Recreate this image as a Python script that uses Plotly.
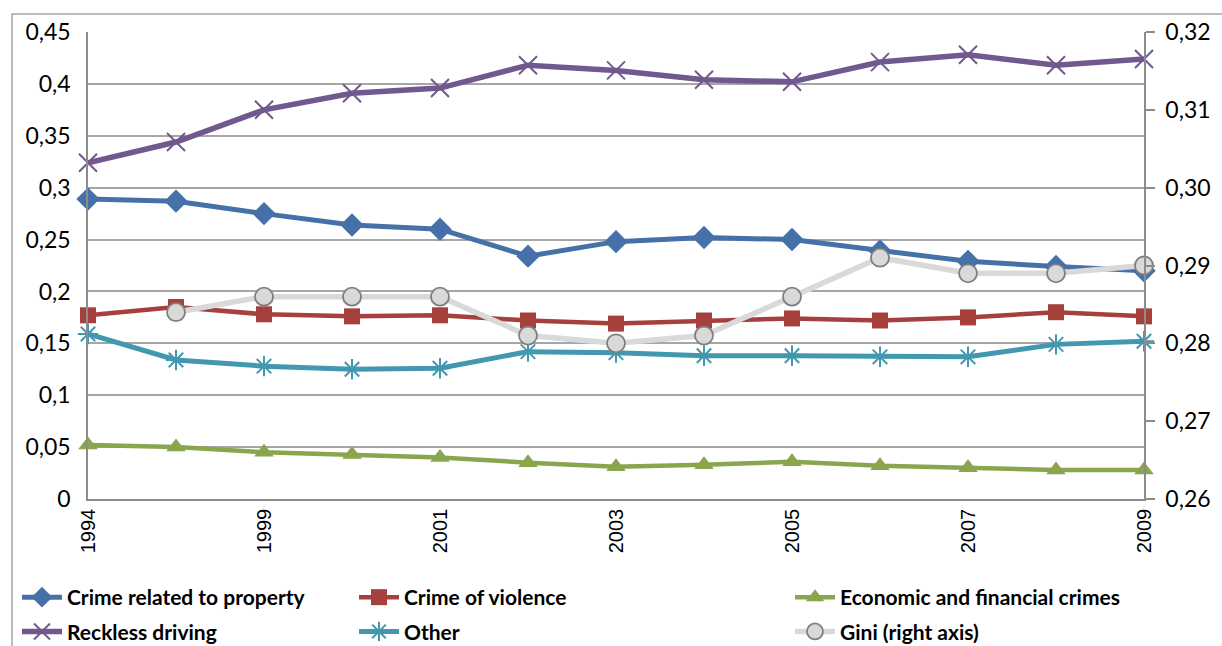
import plotly.graph_objects as go

years = ["1994", "1998", "1999", "2000", "2001", "2002", "2003", "2004",
         "2005", "2006", "2007", "2008", "2009"]
shown_years = ["1994", "1999", "2001", "2003", "2005", "2007", "2009"]

property_crime = [0.289, 0.287, 0.275, 0.264, 0.260, 0.234, 0.248, 0.252, 0.250, 0.239, 0.229, 0.224, 0.220]
violence = [0.177, 0.185, 0.178, 0.176, 0.177, 0.172, 0.169, 0.172, 0.174, 0.172, 0.175, 0.180, 0.176]
economic = [0.052, 0.050, 0.045, 0.043, 0.040, 0.035, 0.031, 0.033, 0.036, 0.032, 0.030, 0.028, 0.028]
reckless = [0.324, 0.344, 0.375, 0.391, 0.396, 0.418, 0.413, 0.404, 0.402, 0.421, 0.428, 0.418, 0.424]
other = [0.159, 0.134, 0.128, 0.125, 0.126, 0.142, 0.141, 0.138, 0.138, 0.137, 0.137, 0.149, 0.152]
gini = [None, 0.284, 0.286, 0.286, 0.286, 0.281, 0.280, 0.281, 0.286, 0.291, 0.289, 0.289, 0.290]

left_ticks = [0, 0.05, 0.1, 0.15, 0.2, 0.25, 0.3, 0.35, 0.4, 0.45]
right_ticks = [0.26, 0.27, 0.28, 0.29, 0.30, 0.31, 0.32]

W, H = 1222, 646
L, R, T, B = 88, 1144, 32, 499


def px_x(p):
    return (p - L) / (R - L)


def px_y(p):
    return (B - p) / (B - T)


FONT = "Lato"
fig = go.Figure()

series = [
    ("Crime related to property", property_crime, "#4571A8", "diamond", 18, 5, "legend", "y"),
    ("Crime of violence", violence, "#A5403D", "square", 16, 4.5, "legend2", "y"),
    ("Economic and financial crimes", economic, "#89A54E", "triangle-up", 17, 4.5, "legend3", "y"),
    ("Reckless driving", reckless, "#71588F", "x-thin-open", 18, 5.5, "legend", "y"),
    ("Other", other, "#4198AF", "asterisk-open", 17, 5, "legend2", "y"),
]
for i, (name, vals, col, sym, size, lw, lg, ya) in enumerate(series):
    fig.add_trace(go.Scatter(
        x=years, y=vals, name=name, mode="lines+markers",
        line=dict(color=col, width=lw),
        marker=dict(symbol=sym, size=size, color=col,
                    line=dict(color=col, width=2 if "open" in sym else 0)),
        legend=lg, legendgroup=f"g{i}", yaxis=ya, cliponaxis=False,
    ))

fig.add_trace(go.Scatter(
    x=years, y=gini, name="Gini (right axis)", mode="lines+markers",
    line=dict(color="#D9D9D9", width=5.5),
    marker=dict(symbol="circle", size=18, color="#D9D9D9",
                line=dict(color="#7F7F7F", width=1.8)),
    legend="legend3", legendgroup="g5", yaxis="y2", cliponaxis=False,
))

fig.update_layout(
    width=W, height=H,
    margin=dict(l=L, r=W - R, t=T, b=H - B, autoexpand=False),
    paper_bgcolor="white", plot_bgcolor="white",
    font=dict(family=FONT, size=22, color="black"),
    xaxis=dict(
        type="category", range=[0, len(years) - 1],
        tickmode="array", tickvals=shown_years, ticktext=shown_years,
        tickangle=-90, tickfont=dict(family="Liberation Sans", size=20),
        showgrid=False, showline=True, linecolor="#8C8C8C", linewidth=1.5,
        ticks="", zeroline=False, automargin=False,
    ),
    yaxis=dict(
        range=[0, 0.45], tickmode="array", tickvals=left_ticks,
        ticktext=[f"{v:g}".replace(".", ",") for v in left_ticks],
        showgrid=True, gridcolor="#A6A6A6", gridwidth=1.5,
        showline=True, linecolor="#8C8C8C", linewidth=1.5,
        zeroline=False, ticks="", ticklabelstandoff=11,
        tickfont=dict(family=FONT, size=23), automargin=False,
    ),
    yaxis2=dict(
        range=[0.26, 0.32], overlaying="y", side="right",
        tickmode="array", tickvals=right_ticks,
        ticktext=[f"{v:.2f}".replace(".", ",") for v in right_ticks],
        showgrid=False, showline=True, linecolor="#8C8C8C", linewidth=1.5,
        ticks="outside", ticklen=9, tickcolor="#8C8C8C", tickwidth=1.5,
        zeroline=False, tickfont=dict(family=FONT, size=23), automargin=False,
        ticklabelstandoff=6,
    ),
    shapes=[dict(type="rect", xref="paper", yref="paper",
                 x0=px_x(12), x1=px_x(1240), y0=px_y(680), y1=px_y(14),
                 line=dict(color="#A6A6A6", width=1.5), fillcolor="rgba(0,0,0,0)",
                 layer="below")],
)

legend_common = dict(orientation="v", yanchor="top", xanchor="left",
                     bgcolor="rgba(0,0,0,0)", borderwidth=0, tracegroupgap=4,
                     font=dict(family=FONT, size=21, color="black", weight="bold"),
                     itemwidth=40)
fig.update_layout(
    legend=dict(x=px_x(17), y=px_y(577), **legend_common),
    legend2=dict(x=px_x(354), y=px_y(577), **legend_common),
    legend3=dict(x=px_x(790), y=px_y(577), **legend_common),
)

fig.write_html("out.html", config={"displayModeBar": False},
               post_script="document.body.style.margin='0';document.body.style.overflow='hidden';")
